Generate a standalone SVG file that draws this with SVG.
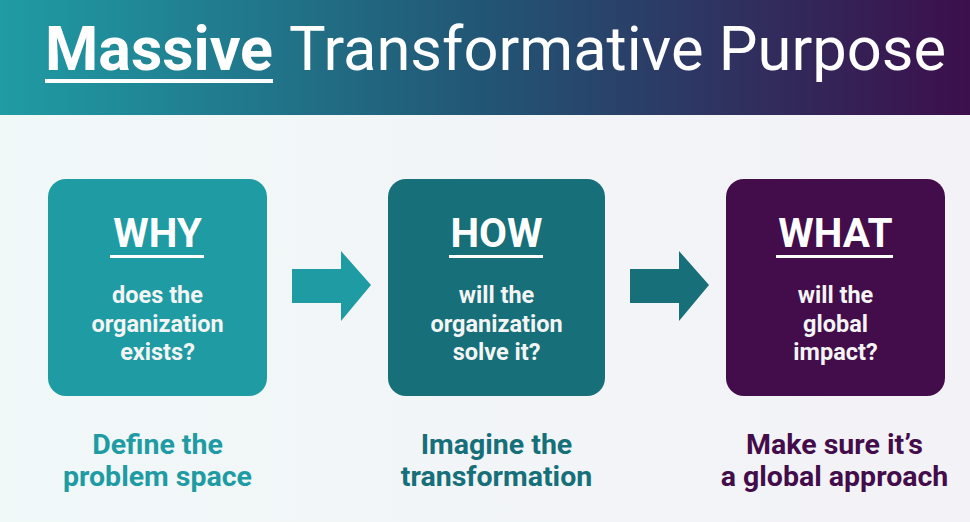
<svg xmlns="http://www.w3.org/2000/svg" width="970" height="522" viewBox="0 0 970 522">
<defs>
<linearGradient id="hdr" x1="0" y1="0" x2="1" y2="0">
<stop offset="0" stop-color="#1f9ca4"/>
<stop offset="0.5" stop-color="#225574"/>
<stop offset="1" stop-color="#3c0f4c"/>
</linearGradient>
<linearGradient id="bg" x1="0" y1="0" x2="1" y2="0">
<stop offset="0" stop-color="#f1f8f8"/>
<stop offset="1" stop-color="#f3f2f6"/>
</linearGradient>
<style>
.t{font-family:Roboto,"Liberation Sans",sans-serif;text-anchor:middle}
.head{font-size:40.5px;font-weight:700;fill:#fff}
.sub{font-size:23.5px;font-weight:700;fill:#f4f4f4}
.lab{font-size:28.5px;font-weight:700}
</style>
</defs>
<rect x="0" y="0" width="970" height="522" fill="url(#bg)"/>
<rect x="0" y="0" width="970" height="115" fill="url(#hdr)"/>
<g id="title">
<text x="45" y="70" font-family="Roboto,'Liberation Sans',sans-serif" font-size="62" font-weight="700" fill="#fff" textLength="228" lengthAdjust="spacingAndGlyphs">Massive</text>
<text x="289" y="70" font-family="Roboto,'Liberation Sans',sans-serif" font-size="62" fill="#fff" textLength="657" lengthAdjust="spacingAndGlyphs">Transformative Purpose</text>
<rect x="45" y="79" width="228" height="4" fill="#fff"/>
</g>
<g id="why">
<rect x="48" y="179" width="219" height="217" rx="18" fill="#1e9ba3"/>
<text class="t head" x="157.5" y="247">WHY</text>
<rect x="110" y="255" width="94" height="3" fill="#fff"/>
<text class="t sub" x="157.5" y="303">does the</text>
<text class="t sub" x="157.5" y="332">organization</text>
<text class="t sub" x="157.5" y="360">exists?</text>
</g>
<g id="how">
<rect x="388" y="179" width="217" height="217" rx="18" fill="#166f79"/>
<text class="t head" x="496.5" y="247">HOW</text>
<rect x="449" y="255" width="94" height="3" fill="#fff"/>
<text class="t sub" x="496.5" y="303">will the</text>
<text class="t sub" x="496.5" y="332">organization</text>
<text class="t sub" x="496.5" y="360">solve it?</text>
</g>
<g id="what">
<rect x="726" y="179" width="219" height="217" rx="18" fill="#430c4a"/>
<text class="t head" x="835.5" y="247">WHAT</text>
<rect x="776" y="255" width="117" height="3" fill="#fff"/>
<text class="t sub" x="835.5" y="303">will the</text>
<text class="t sub" x="835.5" y="332">global</text>
<text class="t sub" x="835.5" y="360">impact?</text>
</g>
<g id="connectors">
<polygon points="292,269 341,269 341,251 371,285 341,321 341,303 292,303" fill="#1e9ba3"/>
<polygon points="630,269 679,269 679,251 709,285 679,321 679,303 630,303" fill="#166f79"/>
</g>
<g id="labels">
<text class="t lab" x="157.5" y="454" fill="#1e9ba3">Define the</text>
<text class="t lab" x="157.5" y="486" fill="#1e9ba3">problem space</text>
<text class="t lab" x="496.5" y="454" fill="#166f79">Imagine the</text>
<text class="t lab" x="496.5" y="486" fill="#166f79">transformation</text>
<text class="t lab" x="834.5" y="454" fill="#430c4a">Make sure it’s</text>
<text class="t lab" x="834.5" y="486" fill="#430c4a">a global approach</text>
</g>
</svg>
